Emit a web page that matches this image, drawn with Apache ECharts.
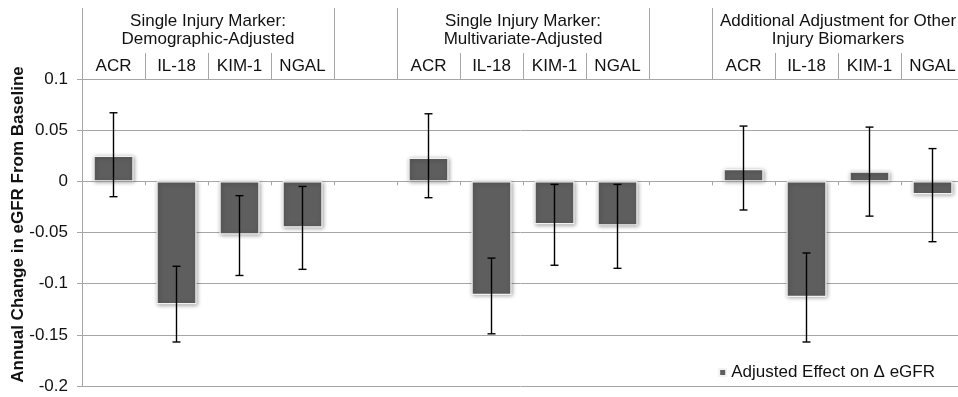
<!DOCTYPE html>
<html><head><meta charset="utf-8">
<script src="https://cdn.jsdelivr.net/npm/echarts@6/dist/echarts.min.js"></script>
<style>html,body{margin:0;padding:0;background:#fff}#c{width:958px;height:397px}</style>
</head><body><div id="c"></div>
<script>
const categories = ['ACR','IL-18','KIM-1','NGAL','','ACR','IL-18','KIM-1','NGAL','','ACR','IL-18','KIM-1','NGAL'];
const groupLabels = ['Single Injury Marker:\nDemographic-Adjusted','Single Injury Marker:\nMultivariate-Adjusted','Additional Adjustment for Other\nInjury Biomarkers'];
const groupCenters = [2, 7, 12];
const groupBoundaries = [0, 4, 5, 9, 10, 14];
const effect = [0.025, -0.12, -0.052, -0.045, null, 0.023, -0.111, -0.042, -0.043, null, 0.012, -0.113, 0.0095, -0.0125];
const ciLow  = [-0.015, -0.157, -0.092, -0.086, null, -0.016, -0.149, -0.082, -0.085, null, -0.028, -0.157, -0.034, -0.059];
const ciHigh = [0.067, -0.083, -0.014, -0.005, null, 0.066, -0.075, -0.003, -0.003, null, 0.054, -0.070, 0.053, 0.032];
const seriesName = 'Adjusted Effect on \u0394 eGFR';
const yAxisName = 'Annual Change in eGFR From Baseline';

const FONT = "'Liberation Sans', Arial, sans-serif";
const GRAY = '#a6a6a6';
const FS = 17;
const errData = [];
for (let i = 0; i < categories.length; i++) {
  if (ciLow[i] != null) errData.push([i, ciLow[i], ciHigh[i]]);
}

const chart = echarts.init(document.getElementById('c'), null, {renderer: 'canvas'});
chart.setOption({
  animation: false,
  textStyle: {fontFamily: FONT},
  grid: {left: 82, right: -6, top: 79, bottom: 11, containLabel: false, outerBoundsMode: 'none'},
  legend: {
    data: [seriesName], right: 23, top: 364, padding: 0,
    icon: 'rect', itemWidth: 7, itemHeight: 7, itemGap: 5,
    textStyle: {fontSize: FS, color: '#111', fontFamily: FONT}
  },
  xAxis: [
    {
      type: 'category', data: categories, position: 'top',
      axisLine: {show: true, onZero: false, lineStyle: {color: GRAY, width: 1}},
      axisTick: {show: true, interval: 0, length: 26, lineStyle: {color: GRAY, width: 1}},
      axisLabel: {interval: 0, margin: 4, fontSize: FS, color: '#111', fontFamily: FONT, lineHeight: 18},
      splitLine: {show: false}
    },
    {
      type: 'category', data: categories, position: 'bottom',
      axisLine: {show: true, onZero: true, lineStyle: {color: GRAY, width: 1}},
      axisTick: {show: true, interval: 0, length: 4, lineStyle: {color: GRAY, width: 1}},
      axisLabel: {show: false},
      splitLine: {show: false}
    },
    {
      type: 'value', min: 0, max: 14, position: 'top',
      axisLine: {show: false, onZero: false},
      axisTick: {show: true, customValues: groupBoundaries, length: 71, lineStyle: {color: GRAY, width: 1}},
      axisLabel: {
        show: true, customValues: groupCenters, margin: 31, fontSize: FS, lineHeight: 18,
        color: '#111', fontFamily: FONT, align: 'center',
        formatter: v => { const k = groupCenters.indexOf(Math.round(v)); return k >= 0 ? groupLabels[k] : ''; }
      },
      splitLine: {show: false}
    }
  ],
  yAxis: {
    type: 'value', min: -0.2, max: 0.1, interval: 0.05,
    name: yAxisName, nameLocation: 'middle', nameGap: 55, nameMoveOverlap: false,
    nameTextStyle: {fontSize: FS, fontWeight: 'bold', color: '#111', fontFamily: FONT, padding: [0, 0, 0, 16]},
    axisLine: {show: true, lineStyle: {color: GRAY, width: 1}},
    axisTick: {show: true, length: 5, lineStyle: {color: GRAY, width: 1}},
    axisLabel: {margin: 14, fontSize: FS, color: '#111', fontFamily: FONT,
      formatter: v => String(Math.round(v * 100) / 100)},
    splitLine: {show: true, lineStyle: {color: GRAY, width: 1}}
  },
  series: [
    {
      name: seriesName, type: 'bar', xAxisIndex: 0, data: effect, barWidth: 40,
      itemStyle: {color: '#5e5e5e', borderColor: '#f2f2f2', borderWidth: 1.2,
        shadowBlur: 4, shadowColor: 'rgba(0,0,0,0.35)', shadowOffsetX: 1, shadowOffsetY: 1}
    },
    {
      name: 'CI', type: 'custom', xAxisIndex: 0, data: errData, z: 10,
      renderItem: (params, api) => {
        const x = api.value(0), lo = api.value(1), hi = api.value(2);
        const p1 = api.coord([x, hi]), p2 = api.coord([x, lo]);
        const hw = 4;
        const st = {stroke: '#000', lineWidth: 1.4};
        return {type: 'group', children: [
          {type: 'line', shape: {x1: p1[0], y1: p1[1], x2: p2[0], y2: p2[1]}, style: st},
          {type: 'line', shape: {x1: p1[0] - hw, y1: p1[1], x2: p1[0] + hw, y2: p1[1]}, style: st},
          {type: 'line', shape: {x1: p2[0] - hw, y1: p2[1], x2: p2[0] + hw, y2: p2[1]}, style: st}
        ]};
      },
      encode: {x: 0, y: [1, 2]}
    }
  ]
});
</script></body></html>
